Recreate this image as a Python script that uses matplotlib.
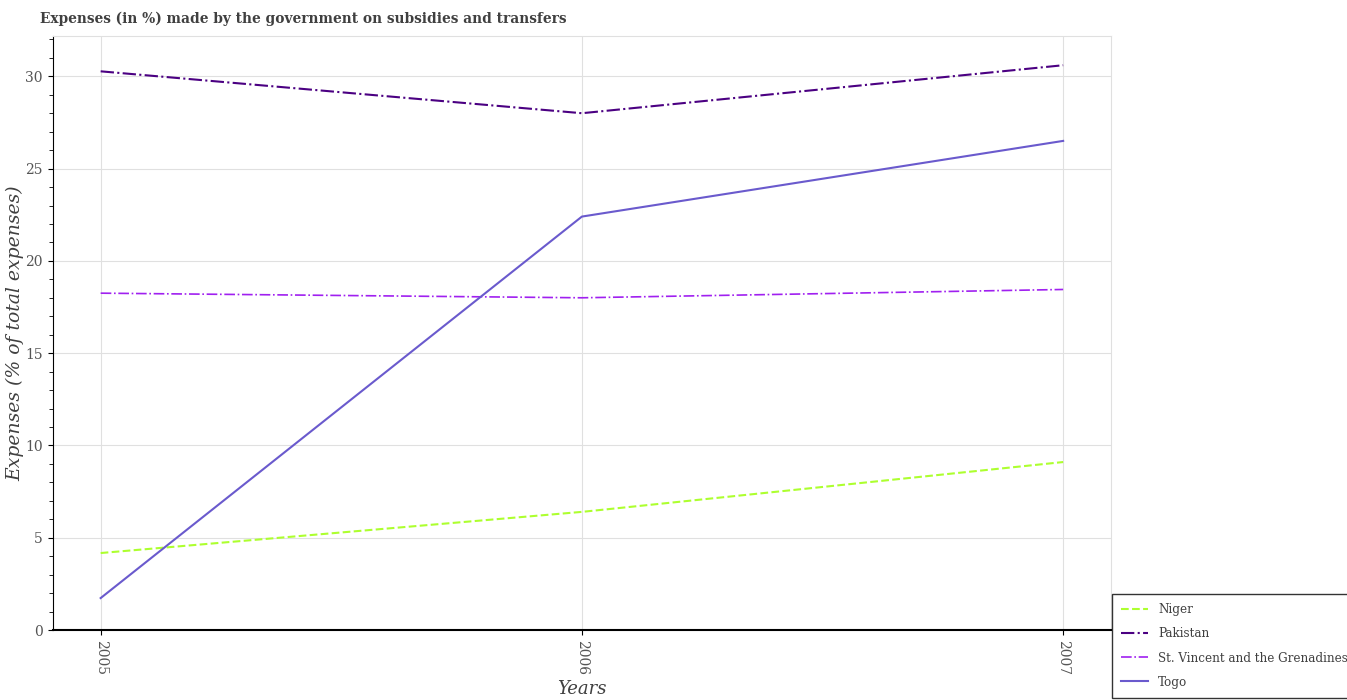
import matplotlib
matplotlib.use("Agg")
import matplotlib.pyplot as plt
from matplotlib.ticker import MultipleLocator
from matplotlib.font_manager import FontProperties

years = [2005, 2006, 2007]
niger = [4.17, 6.4, 9.1]
pakistan = [30.27, 28.0, 30.6]
st_vincent = [18.25, 18.0, 18.45]
togo = [1.73, 22.4, 26.5]

plt.rcParams['font.family'] = ['DejaVu Serif']

fig = plt.figure(figsize=(13.47, 7), dpi=100)
ax = fig.add_axes([0.039, 0.1, 0.786, 0.849])

ax.plot(years, niger, color='#adff2f', linestyle='--', linewidth=1.5, label='Niger')
ax.plot(years, pakistan, color='#4b0082', linestyle='-.', linewidth=1.5, label='Pakistan')
ax.plot(years, st_vincent, color='#a020f0', linestyle='-.', linewidth=1.2, label='St. Vincent and the Grenadines')
ax.plot(years, togo, color='#6a5acd', linestyle='-', linewidth=1.5, label='Togo')

ax.set_xlim(2004.9, 2007.1)
ax.set_ylim(0, 32.2)
ax.set_xticks(years)
ax.set_xticklabels([str(y) for y in years], rotation=-90)
ax.yaxis.set_major_locator(MultipleLocator(5))
ax.yaxis.set_minor_locator(MultipleLocator(1))
ax.tick_params(axis='both', colors='black', labelcolor='#555555', labelsize=10)
ax.tick_params(axis='y', which='minor', length=3)
ax.grid(True, color='#e0e0e0', linewidth=0.8)
ax.set_axisbelow(True)

for side in ['top', 'right']:
    ax.spines[side].set_color('#e0e0e0')
ax.spines['left'].set_color('black')
ax.spines['bottom'].set_color('black')
ax.spines['bottom'].set_linewidth(1.5)

title_font = FontProperties(family='DejaVu Serif', weight='bold', stretch='condensed', size=11)
ax.set_title("Expenses (in %) made by the government on subsidies and transfers",
             fontproperties=title_font, color='#404040', loc='left', x=-0.012, pad=9)
ax.set_xlabel("Years", fontsize=13, style='italic', color='#404040')
ax.set_ylabel("Expenses (% of total expenses)", fontsize=13.5, style='italic',
              color='#404040', labelpad=1)

leg_font = FontProperties(family='DejaVu Serif', stretch='condensed', size=9.5)
leg = fig.legend(loc='upper left', bbox_to_anchor=(1112 / 1347, 1 - 594 / 700),
                 fancybox=False, edgecolor='black', prop=leg_font, handlelength=2,
                 borderaxespad=0, borderpad=0.7, labelspacing=0.85)
for t in leg.get_texts():
    t.set_color('#404040')

fig.savefig('out.png', dpi=100)
